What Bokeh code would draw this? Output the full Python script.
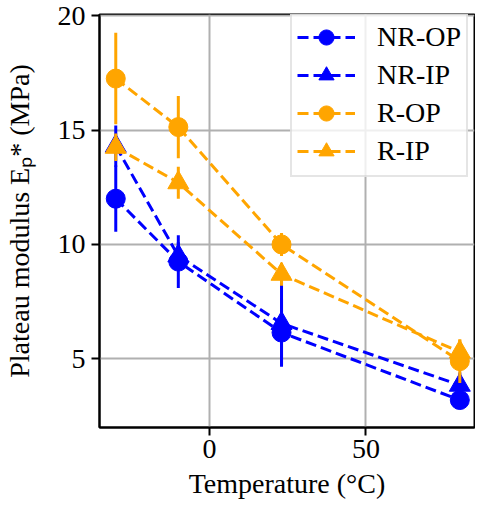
from bokeh.plotting import figure
from bokeh.models import ColumnDataSource, Range1d, FixedTicker, Legend, LegendItem
from bokeh.embed import file_html
from bokeh.resources import INLINE

# ---- data ----
temperature = [-30, -10, 23, 80]
series_names = ["NR-OP", "NR-IP", "R-OP", "R-IP"]
nr_op = [12.0, 9.25, 6.15, 3.2]
nr_op_err = [1.45, 1.15, 1.5, 0.25]
nr_ip = [14.3, 9.5, 6.55, 3.85]
nr_ip_err = [0.9, 0.6, 1.85, 0.55]
r_op = [17.25, 15.13, 10.0, 4.9]
r_op_err = [2.0, 1.36, 0.5, 0.95]
r_ip = [14.25, 12.7, 8.7, 5.3]
r_ip_err = [0.6, 0.7, 0.5, 0.55]
x_ticks = [0, 50]
y_ticks = [5, 10, 15, 20]

BLUE = "#0000ff"
ORANGE = "#ffa500"
FONT = "Liberation Serif"
FS = "28px"

p = figure(width=475, height=512, output_backend="svg", toolbar_location=None,
           x_range=Range1d(-35.2, 84.7), y_range=Range1d(2.0, 20.05),
           min_border_left=94, min_border_right=1, min_border_top=14, min_border_bottom=85)

p.background_fill_color = "white"
p.border_fill_color = "white"
p.outline_line_color = "black"
p.outline_line_width = 2
p.outline_line_alpha = 1

for g in (p.xgrid, p.ygrid):
    g.grid_line_color = "#b0b0b0"
    g.grid_line_width = 2
p.xgrid.ticker = FixedTicker(ticks=x_ticks)
p.ygrid.ticker = FixedTicker(ticks=y_ticks)
p.xaxis.ticker = FixedTicker(ticks=x_ticks)
p.yaxis.ticker = FixedTicker(ticks=y_ticks)

for ax in (p.xaxis[0], p.yaxis[0]):
    ax.axis_line_width = 2
    ax.axis_line_color = "black"
    ax.major_tick_line_width = 2
    ax.major_tick_out = 8
    ax.major_tick_in = 0
    ax.minor_tick_line_color = None
    ax.major_label_text_font = FONT
    ax.major_label_text_font_size = FS
    ax.major_label_text_color = "black"
    ax.axis_label_text_font = FONT
    ax.axis_label_text_font_size = FS
    ax.axis_label_text_font_style = "normal"
    ax.axis_label_text_color = "black"

p.xaxis.axis_label = "Temperature (°C)"
p.yaxis.axis_label = "Plateau modulus Eₚ* (MPa)"
p.xaxis.major_label_standoff = 4
p.yaxis.major_label_standoff = 6
p.xaxis.axis_label_standoff = 7
p.yaxis.axis_label_standoff = 20

specs = [
    ("NR-OP", nr_op, nr_op_err, BLUE, "circle", 19),
    ("NR-IP", nr_ip, nr_ip_err, BLUE, "triangle", 21),
    ("R-OP", r_op, r_op_err, ORANGE, "circle", 19),
    ("R-IP", r_ip, r_ip_err, ORANGE, "triangle", 21),
]

items = []
for name, vals, errs, color, marker, size in specs:
    src = ColumnDataSource(dict(
        x=temperature, y=vals,
        lo=[v - e for v, e in zip(vals, errs)],
        hi=[v + e for v, e in zip(vals, errs)],
    ))
    ln = p.line("x", "y", source=src, line_color=color, line_width=3, line_dash="11 5")
    eb = p.segment(x0="x", y0="lo", x1="x", y1="hi", source=src, line_color=color, line_width=3)
    sc = p.scatter("x", "y", source=src, marker=marker, size=size,
                   fill_color=color, line_color=color, line_width=1)
    items.append(LegendItem(label=name, renderers=[ln, sc]))

legend = Legend(items=items, location=(191, 250))
legend.label_text_font = FONT
legend.label_text_font_size = FS
legend.label_text_color = "black"
legend.glyph_width = 58
legend.glyph_height = 38
legend.label_standoff = 22
legend.label_height = 30
legend.spacing = 0
legend.padding = 5
legend.margin = 0
legend.border_line_color = "#cccccc"
legend.border_line_width = 2
legend.background_fill_alpha = 0.8
p.add_layout(legend)

open("out.html", "w").write(file_html(p, INLINE))
